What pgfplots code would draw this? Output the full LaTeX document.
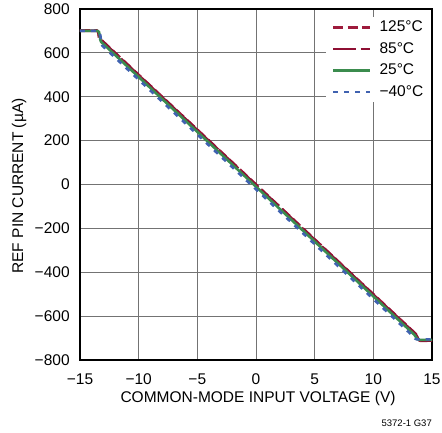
\documentclass[border=0pt]{standalone}
\usepackage{fontspec}
\setmainfont{Liberation Sans}
\usepackage{pgfplots}
\pgfplotsset{compat=1.18}
\definecolor{cA}{HTML}{9E1B3C}
\definecolor{cB}{HTML}{8E0F33}
\definecolor{cG}{HTML}{3B8C4E}
\definecolor{cBl}{HTML}{4062B0}
\newcommand{\lbl}{\fontsize{15.5}{18}\selectfont}
\begin{document}
\lbl
\begin{tikzpicture}
\path[use as bounding box] (0pt,0pt) rectangle (442pt,433pt);
\begin{axis}[
  at={(80pt,73pt)}, anchor=south west,
  width=352pt, height=351pt, scale only axis,
  xmin=-15, xmax=15, ymin=-800, ymax=800,
  xtick={-15,-10,...,15},
  xticklabels={−15,−10,−5,0,5,10,15},
  ytick={-800,-600,...,800},
  yticklabels={−800,−600,−400,−200,0,200,400,600,800},
  grid=major,
  major grid style={black!55, line width=0.8pt},
  axis line style={line width=1.3pt},
  major tick length=0pt,
  tick label style={font=\lbl},
  xticklabel style={anchor=base, yshift=-25pt},
  yticklabel style={anchor=east, xshift=-5pt},
  xlabel={COMMON-MODE INPUT VOLTAGE (V)},
  ylabel={REF PIN CURRENT (µA)},
  xlabel style={font=\lbl, at={(axis description cs:0.5057,-0.1197)}, anchor=base},
  ylabel style={font=\lbl, at={(axis description cs:-0.1619,0.4957)}, anchor=base},
  legend style={at={(axis description cs:1,1)}, anchor=north east, draw=none, fill=white,
    font=\lbl, yshift=-7.5pt, xshift=-0.6pt, inner xsep=6pt, inner ysep=2pt, row sep=4.4pt},
  legend cell align=left,
  legend image code/.code={\draw[#1, line width=2.6pt] (0pt,0pt) -- (37pt,0pt); \path (43pt,0pt);},
]
\addplot[cA, line width=2.6pt, dash pattern=on 10pt off 4.5pt] coordinates {
(-15,702) (-13.6,702) (-13.48,698) (-13.42,688) (-13.38,668) (-13.3,665)
(13.6,-680) (13.72,-690) (13.82,-703) (13.95,-712) (15,-713)};
\addlegendentry{125°C}
\addplot[cB, line width=2.6pt, dash pattern=on 23pt off 4.5pt] coordinates {
(-15,701) (-13.55,701) (-13.45,696) (-13.4,685) (-13.36,668) (-13.28,662)
(13.6,-682) (13.75,-695) (13.88,-707) (14.0,-711) (15,-711)};
\addlegendentry{85°C}
\addplot[cG, line width=2.6pt, solid] coordinates {
(-15,700) (-13.5,700) (-13.38,695) (-13.32,680) (-13.27,660) (-13.2,650)
(13.5,-685) (13.65,-697) (13.78,-705) (13.9,-708) (15,-708)};
\addlegendentry{25°C}
\addplot[cBl, line width=2.6pt, dash pattern=on 5pt off 6pt] coordinates {
(-15,700) (-13.45,700) (-13.32,693) (-13.25,675) (-13.2,650) (-13.1,633)
(13.4,-692) (13.55,-702) (13.7,-706) (15,-706)};
\addlegendentry{−40°C}
\end{axis}
\node[anchor=south east, font=\fontsize{9.5}{11}\selectfont, inner sep=0pt] at (432pt,6pt) {5372-1 G37};
\end{tikzpicture}
\end{document}
